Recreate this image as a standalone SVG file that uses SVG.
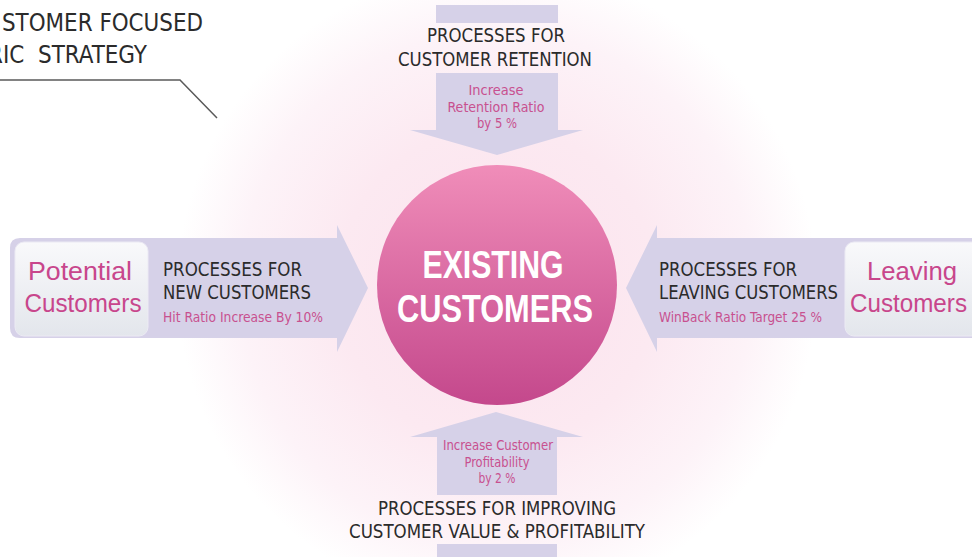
<svg xmlns="http://www.w3.org/2000/svg" width="972" height="557" viewBox="0 0 972 557">
<defs>
<radialGradient id="glow" cx="497" cy="287" r="320" gradientUnits="userSpaceOnUse">
<stop offset="0" stop-color="#fbe2ed"/>
<stop offset="0.5" stop-color="#fce9f1"/>
<stop offset="0.8" stop-color="#fdf3f8"/>
<stop offset="1" stop-color="#ffffff"/>
</radialGradient>
<linearGradient id="ball" x1="0" y1="0" x2="0" y2="1">
<stop offset="0" stop-color="#f08db9"/>
<stop offset="1" stop-color="#c4488c"/>
</linearGradient>
<linearGradient id="box" x1="0" y1="0" x2="0" y2="1">
<stop offset="0" stop-color="#f9f9fb"/>
<stop offset="1" stop-color="#e3e6ec"/>
</linearGradient>
<style>
.arrow{fill:#d6d1e8}
.inbox{fill:url(#box);stroke:#eceaf4;stroke-width:1}
.proc{font-family:"Liberation Sans Narrow","DejaVu Sans Condensed","Liberation Sans",sans-serif;font-size:19px;fill:#2b2b2b}
.sub{font-family:"Liberation Sans Narrow","DejaVu Sans Condensed","Liberation Sans",sans-serif;font-size:13.5px;fill:#c8508f}
.big{font-family:"Liberation Sans","DejaVu Sans",sans-serif;font-size:25px;fill:#c8468c}
.title{font-family:"Liberation Sans Narrow","DejaVu Sans Condensed","Liberation Sans",sans-serif;font-size:25px;fill:#2b2b2b;white-space:pre}
.center{font-family:"Liberation Sans","DejaVu Sans",sans-serif;font-size:38px;font-weight:bold;fill:#ffffff}
</style>
</defs>
<rect x="0" y="0" width="972" height="557" fill="#ffffff"/>
<circle cx="497" cy="287" r="320" fill="url(#glow)"/>

<g id="title">
<text class="title" x="2" y="31" textLength="201" lengthAdjust="spacingAndGlyphs">STOMER FOCUSED</text>
<text class="title" x="-12" y="63" textLength="159" lengthAdjust="spacingAndGlyphs" xml:space="preserve">RIC  STRATEGY</text>
<polyline points="0,80 180,80 217,118" fill="none" stroke="#5a5a5a" stroke-width="1.5"/>
</g>

<g id="connectors">
<rect class="arrow" x="436" y="5" width="122" height="18"/>
<polygon class="arrow" points="436,73 558,73 558,130 583,130 497,155 410,130 436,130"/>
<polygon class="arrow" points="437,544 557,544 557,557 437,557"/>
<polygon class="arrow" points="437,495 557,495 557,437 583,437 496,412 410,437 437,437"/>
<path class="arrow" d="M20,238 H337 V225 L368,288 L337,352 V338 H20 Q10,338 10,328 V248 Q10,238 20,238 Z"/>
<path class="arrow" d="M972,238 H657 V225 L626,288 L657,352 V338 H972 Z"/>
</g>

<g id="retention">
<text class="proc" x="496" y="42" text-anchor="middle" textLength="138" lengthAdjust="spacingAndGlyphs">PROCESSES FOR</text>
<text class="proc" x="495" y="66" text-anchor="middle" textLength="194" lengthAdjust="spacingAndGlyphs">CUSTOMER RETENTION</text>
<text class="sub" x="496" y="95" text-anchor="middle" textLength="55" lengthAdjust="spacingAndGlyphs">Increase</text>
<text class="sub" x="496" y="112" text-anchor="middle" textLength="97" lengthAdjust="spacingAndGlyphs">Retention Ratio</text>
<text class="sub" x="497" y="128" text-anchor="middle" textLength="40" lengthAdjust="spacingAndGlyphs">by 5 %</text>
</g>

<g id="potential">
<rect class="inbox" x="15" y="242" width="133" height="94" rx="9"/>
<text class="big" x="80" y="280" text-anchor="middle" textLength="104" lengthAdjust="spacingAndGlyphs">Potential</text>
<text class="big" x="83" y="312" text-anchor="middle" textLength="117" lengthAdjust="spacingAndGlyphs">Customers</text>
</g>

<g id="new">
<text class="proc" x="163" y="276" textLength="139" lengthAdjust="spacingAndGlyphs">PROCESSES FOR</text>
<text class="proc" x="163" y="299" textLength="148" lengthAdjust="spacingAndGlyphs">NEW CUSTOMERS</text>
<text class="sub" x="163" y="322" textLength="160" lengthAdjust="spacingAndGlyphs">Hit Ratio Increase By 10%</text>
</g>

<g id="existing">
<circle cx="497" cy="285" r="120" fill="url(#ball)"/>
<text class="center" x="493" y="278" text-anchor="middle" textLength="141" lengthAdjust="spacingAndGlyphs">EXISTING</text>
<text class="center" x="495" y="322" text-anchor="middle" textLength="196" lengthAdjust="spacingAndGlyphs">CUSTOMERS</text>
</g>

<g id="leaving-process">
<text class="proc" x="659" y="276" textLength="138" lengthAdjust="spacingAndGlyphs">PROCESSES FOR</text>
<text class="proc" x="659" y="299" textLength="179" lengthAdjust="spacingAndGlyphs">LEAVING CUSTOMERS</text>
<text class="sub" x="659" y="322" textLength="163" lengthAdjust="spacingAndGlyphs">WinBack Ratio Target 25 %</text>
</g>

<g id="leaving">
<rect class="inbox" x="845" y="242" width="140" height="94" rx="9"/>
<text class="big" x="867" y="280" textLength="90" lengthAdjust="spacingAndGlyphs">Leaving</text>
<text class="big" x="850" y="312" textLength="117" lengthAdjust="spacingAndGlyphs">Customers</text>
</g>

<g id="value">
<text class="sub" x="498" y="450" text-anchor="middle" textLength="110" lengthAdjust="spacingAndGlyphs">Increase Customer</text>
<text class="sub" x="497" y="467" text-anchor="middle" textLength="65" lengthAdjust="spacingAndGlyphs">Profitability</text>
<text class="sub" x="497" y="483" text-anchor="middle" textLength="37" lengthAdjust="spacingAndGlyphs">by 2 %</text>
<text class="proc" x="497" y="515" text-anchor="middle" textLength="238" lengthAdjust="spacingAndGlyphs">PROCESSES FOR IMPROVING</text>
<text class="proc" x="497" y="538" text-anchor="middle" textLength="296" lengthAdjust="spacingAndGlyphs">CUSTOMER VALUE &amp; PROFITABILITY</text>
</g>
</svg>
